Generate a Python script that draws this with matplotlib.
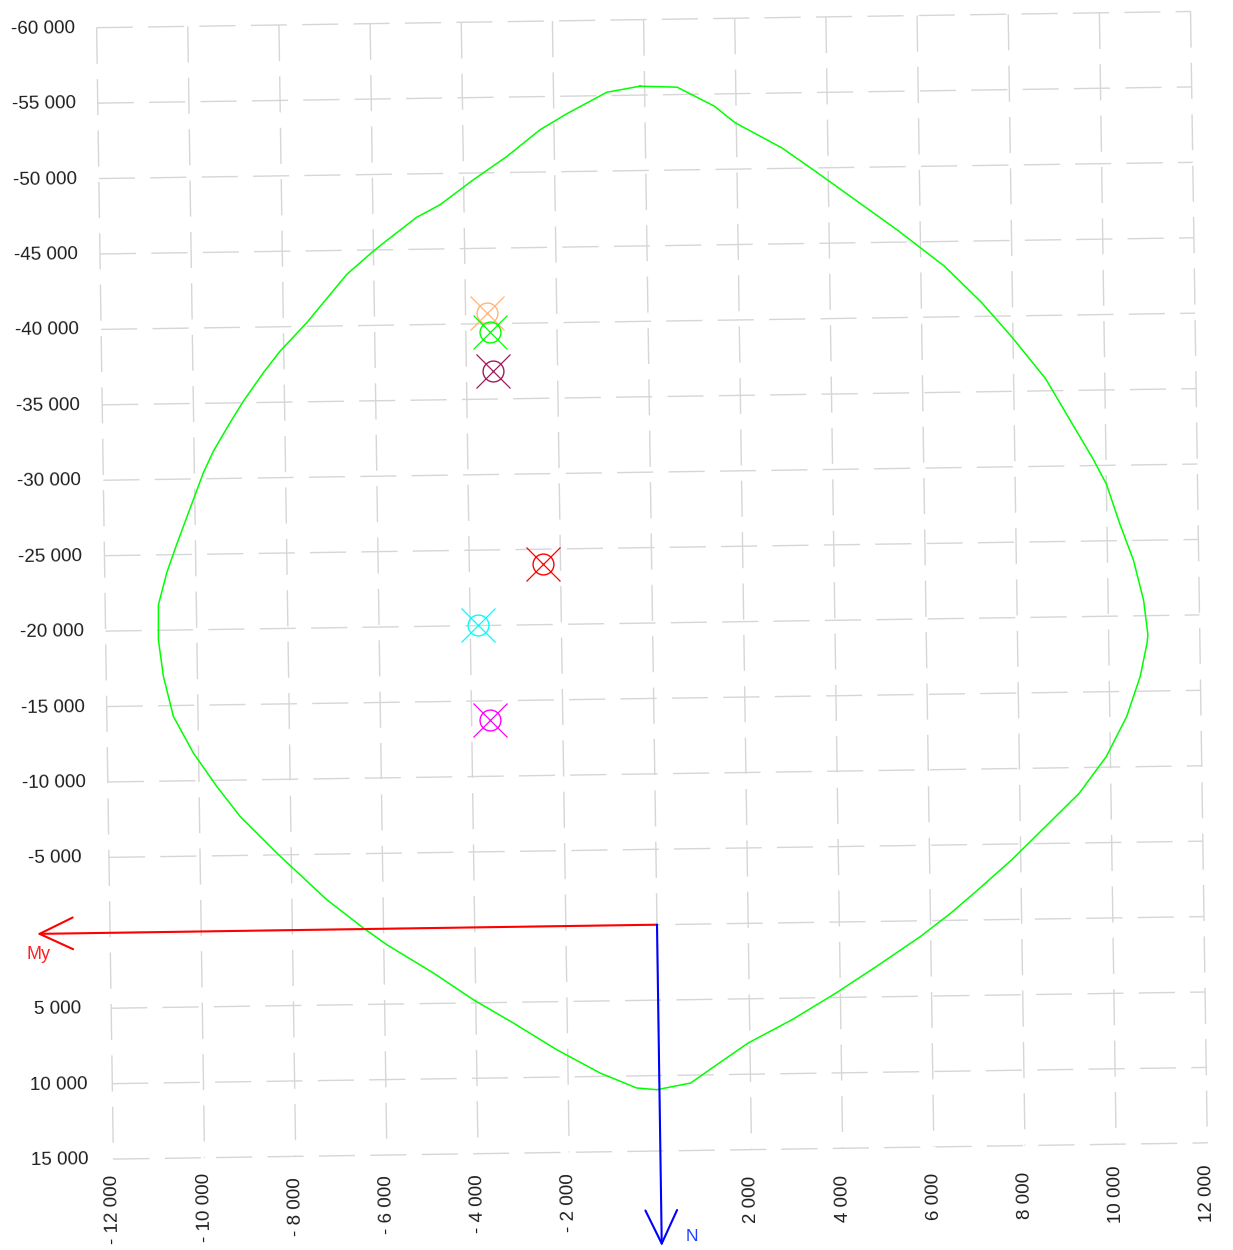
import numpy as np
import matplotlib
matplotlib.use("Agg")
import matplotlib.pyplot as plt
from matplotlib.transforms import Affine2D, offset_copy

plt.rcParams['font.family'] = ['Liberation Sans', 'DejaVu Sans']

# interaction curve (My, N), clockwise from the top
curve_my = [-100, 715, 1525, 1965, 2994, 3728, 4608, 5487, 6515, 7319, 7974,
            8702, 9207, 9713, 10001, 10284, 10571, 10779, 10862, 10841, 10680,
            10371, 9912, 9308, 8557, 7804, 7053, 6451, 5777, 4802, 3905, 2932,
            1962, 1213, 688, -56, -498, -1298, -2240, -3184, -4053, -4921,
            -5934, -6442, -7235, -8317, -9110, -9611, -10113, -10540, -10746,
            -10844, -10832, -10638, -10409, -10106, -9802, -9577, -9201, -8902,
            -8454, -8081, -7486, -6593, -6003, -5705, -5040, -4525, -3786,
            -3046, -2307, -1716, -832, -100]
curve_n = [-55590, -55488, -54193, -53092, -51356, -49758, -47790, -45828,
           -43370, -40928, -38605, -35802, -33128, -30459, -28757, -26093,
           -23674, -21013, -18736, -18187, -15980, -13342, -10711, -8312,
           -6132, -3959, -2004, -486, 1035, 2979, 4703, 6428, 7929, 9447,
           10524, 10935, 10802, 9772, 8185, 6373, 4790, 2980, 1059, -70,
           -1982, -5125, -7587, -9598, -11834, -14279, -16940, -19376, -21697,
           -23815, -25700, -28053, -30407, -31821, -33694, -35105, -36975,
           -38384, -40245, -43407, -44918, -45615, -47122, -47929, -49552,
           -51058, -52800, -53833, -55220, -55590]

# load points
pt_my = [-3530, -3470, -3420, -2380, -3830, -3600]
pt_n = [-40720, -39460, -36870, -24030, -20060, -13750]
pt_colors = ['#ffb47a', '#00ff00', '#a01a5e', '#ff0000', '#00ffff', '#ff00ff']

xticks = np.arange(-12000, 12001, 2000)
yticks = np.arange(-60000, 15001, 5000)

my_arrow_end = -13600
n_arrow_end = 21300


def fmt(v):
    s = f"{abs(v):,}".replace(",", " ")
    return ("-" if v < 0 else "") + s


fig = plt.figure(figsize=(12.33, 12.5), dpi=100)
ax = fig.add_axes([0.0892, 0.0792, 0.8873, 0.9052])
ax.set_xlim(-12000, 12000)
ax.set_ylim(15000, -60000)
ax.axis('off')

# the whole picture is turned slightly counter-clockwise
angle = 0.85
cx, cy = ax.transData.transform((0, 0))
tr = ax.transData + Affine2D().rotate_deg_around(cx, cy, angle)

grid_kw = dict(color='#d6d6d6', lw=1.0, dashes=(26, 11), transform=tr, clip_on=False, zorder=1)
for x in xticks:
    ax.plot([x, x], [yticks[0], yticks[-1]], **grid_kw)
for y in yticks:
    ax.plot([xticks[0], xticks[-1]], [y, y], **grid_kw)

# tick labels
ylab_tr = offset_copy(tr, fig=fig, x=-54, y=-1, units='dots')
for y in yticks:
    if y == 0:
        continue
    ax.text(xticks[0], y, fmt(y), transform=ylab_tr, ha='center', va='center',
            fontsize=13.5, color='#1e1e1e', rotation=angle, rotation_mode='anchor')
xlab_tr = offset_copy(tr, fig=fig, x=0, y=-50, units='dots')
for x in xticks:
    if x == 0:
        continue
    lab = ("- " + fmt(-x)) if x < 0 else fmt(x)
    ax.text(x, yticks[-1], lab, transform=xlab_tr, ha='center', va='center',
            fontsize=13.5, color='#1e1e1e', rotation=90 + angle, rotation_mode='anchor')

# interaction curve
ax.plot(curve_my, curve_n, color='#00ff00', lw=1.1, transform=tr, clip_on=False, zorder=3)

# points
for mx, nn, c in zip(pt_my, pt_n, pt_colors):
    ax.plot(mx, nn, marker='o', ms=15, mfc='none', mec=c, mew=1.0, transform=tr, zorder=4)
    ax.plot(mx, nn, marker='x', ms=25, mec=c, mew=0.9, transform=tr, zorder=4)

# axes arrows
ax.annotate('', xy=(my_arrow_end, 0), xytext=(0, 0), xycoords=tr, textcoords=tr,
            arrowprops=dict(arrowstyle='->,head_length=2.0,head_width=0.95', color='#ff0000',
                            lw=1.5, shrinkA=0, shrinkB=0, mutation_scale=12),
            annotation_clip=False, zorder=5)
ax.annotate('', xy=(0, n_arrow_end), xytext=(0, 0), xycoords=tr, textcoords=tr,
            arrowprops=dict(arrowstyle='->,head_length=2.0,head_width=0.95', color='#0000ff',
                            lw=1.5, shrinkA=0, shrinkB=0, mutation_scale=12),
            annotation_clip=False, zorder=5)
ax.annotate('My', xy=(my_arrow_end, 0), xycoords=tr, xytext=(1, -9), textcoords='offset points',
            ha='center', va='top', fontsize=13, color='#ff2020', annotation_clip=False)
ax.annotate('N', xy=(0, n_arrow_end), xycoords=tr, xytext=(17, 7), textcoords='offset points',
            ha='left', va='center', fontsize=12.5, color='#2040ff', annotation_clip=False)

fig.savefig('out.png', dpi=100, facecolor='white')
